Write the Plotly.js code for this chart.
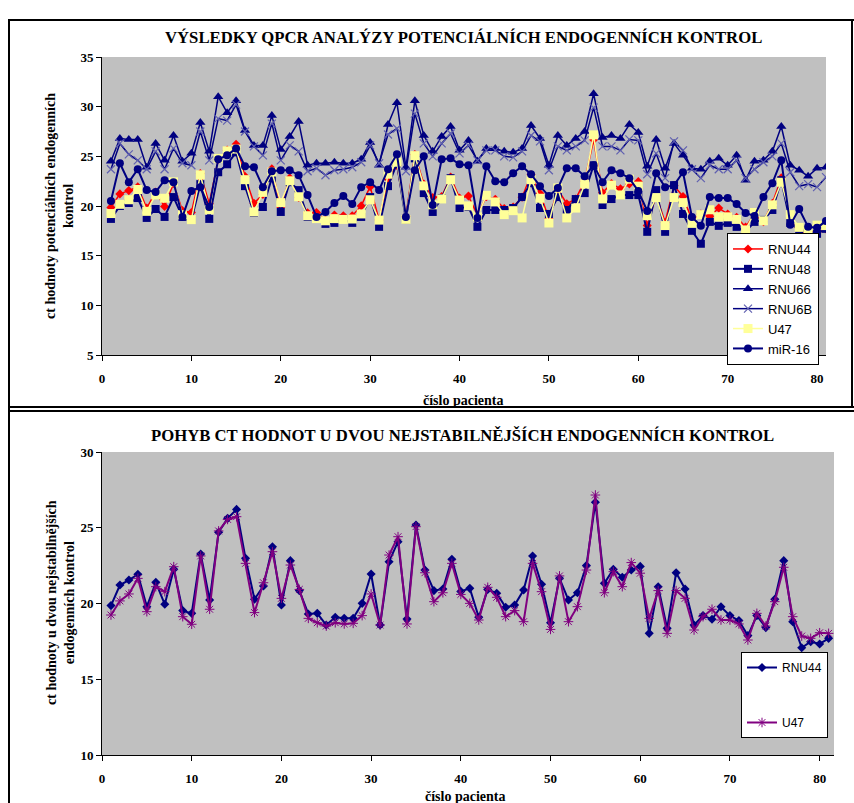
<!DOCTYPE html>
<html>
<head>
<meta charset="utf-8">
<script src="https://cdn.plot.ly/plotly-3.0.1.min.js"></script>
<style>html,body{margin:0;padding:0;background:#fff;}#chart{width:854px;height:803px;}</style>
</head>
<body>
<div id="chart"></div>
<script>
const patients = [1,2,3,4,5,6,7,8,9,10,11,12,13,14,15,16,17,18,19,20,21,22,23,24,25,26,27,28,29,30,31,32,33,34,35,36,37,38,39,40,41,42,43,44,45,46,47,48,49,50,51,52,53,54,55,56,57,58,59,60,61,62,63,64,65,66,67,68,69,70,71,72,73,74,75,76,77,78,79,80,81];

const rnu44 = [19.86,21.22,21.55,21.93,19.79,21.40,19.95,22.26,19.53,19.35,23.27,20.23,24.70,25.62,26.21,22.98,20.28,21.16,23.75,19.90,
22.83,20.85,19.31,19.35,18.58,19.09,19.02,19.02,20.01,21.95,18.58,22.76,24.08,18.98,25.18,22.21,20.85,20.96,22.92,20.80,
21.00,19.09,20.93,20.67,19.75,19.90,20.89,23.14,21.27,18.73,21.66,20.23,20.71,22.50,26.68,21.33,22.26,21.73,22.21,22.45,
18.03,21.11,18.36,22.03,20.96,18.58,19.20,18.96,19.79,19.20,18.87,17.88,19.20,18.41,20.28,22.83,18.80,17.08,17.48,17.33,17.70];

const rnu48 = [18.7,20.0,20.3,20.8,18.8,19.7,18.9,20.9,18.9,18.6,22.2,18.7,23.4,24.2,25.4,22.0,19.3,19.9,22.8,19.4,
22.4,21.6,18.9,18.8,18.2,18.3,18.7,18.3,18.9,20.9,17.9,22.0,24.3,18.6,24.8,21.3,19.4,20.8,22.8,19.8,
19.9,17.9,19.6,19.6,19.6,19.8,20.9,22.3,19.8,19.2,20.9,19.6,20.7,21.3,24.1,20.1,20.7,21.1,21.1,21.1,
17.4,21.6,17.4,22.1,19.2,17.5,16.2,18.4,18.0,18.3,17.9,17.4,18.4,18.6,19.6,22.6,18.3,17.6,17.4,17.2,17.7];

const rnu66 = [24.5,26.8,26.7,26.7,23.9,26.3,24.6,27.1,24.5,25.3,28.4,25.5,31.0,29.4,30.6,27.6,26.1,26.1,29.1,25.7,
27.0,28.5,24.1,24.3,24.3,24.4,24.3,24.3,24.7,26.4,24.1,28.2,30.4,23.9,30.6,27.1,25.5,27.0,28.0,25.6,
26.6,24.5,25.8,25.8,25.5,25.4,25.8,28.1,26.8,24.1,27.1,26.1,26.8,27.5,31.3,26.9,27.1,26.8,28.2,27.4,
24.0,26.7,23.8,26.3,25.1,23.8,23.7,24.5,24.8,24.1,25.1,22.6,24.5,24.6,25.5,28.0,24.1,23.6,23.0,23.8,23.9];

const rnu6b = [23.7,26.3,25.2,24.6,23.7,25.5,23.7,25.8,24.3,24.1,27.5,24.6,28.8,28.6,30.2,27.5,26.0,25.1,28.3,24.6,
26.1,25.5,23.5,23.8,23.1,23.6,23.7,23.9,24.4,26.1,24.3,27.2,27.8,23.5,29.3,26.3,25.0,26.3,27.3,25.3,
26.1,24.6,25.6,25.6,25.0,24.9,25.5,27.1,26.5,23.6,26.0,25.6,26.0,26.6,29.9,26.0,26.0,25.6,26.7,26.6,
23.2,25.3,22.8,26.5,25.6,23.7,22.8,24.1,23.7,23.7,24.6,22.8,23.7,24.4,25.0,26.3,23.4,22.0,22.2,21.9,22.9];

const u47 = [19.24,20.17,20.63,21.66,19.46,21.11,20.78,22.43,19.13,18.63,23.14,19.62,24.79,25.55,25.73,22.65,19.40,21.37,23.42,20.34,
22.54,20.93,19.02,18.73,18.51,18.73,18.65,18.69,19.20,20.63,18.58,23.20,24.41,18.65,25.07,22.03,20.12,20.71,22.65,20.60,
20.01,18.91,21.07,20.41,19.13,19.53,18.80,22.65,20.78,18.29,21.82,18.80,19.79,22.21,27.16,20.71,22.10,21.11,22.70,22.00,
19.02,20.85,18.03,20.85,20.34,18.25,19.13,19.62,18.91,18.91,18.65,17.59,19.35,18.51,20.12,22.39,19.13,17.85,17.70,18.07,18.03];

const mir16 = [20.5,24.3,22.4,23.7,21.6,21.4,22.6,22.4,18.9,21.5,21.9,19.9,24.7,25.1,25.8,24.0,23.9,21.9,23.5,23.6,
23.6,23.1,21.1,18.9,19.4,20.3,21.0,20.2,21.9,22.4,21.6,23.7,25.2,18.9,23.6,25.0,20.1,24.7,24.8,24.2,
24.1,18.8,24.0,22.5,22.4,23.3,24.0,23.2,22.0,21.0,21.8,23.8,23.8,23.0,24.1,22.4,23.6,23.3,22.8,21.5,
19.5,23.3,21.9,22.1,23.4,18.9,18.0,20.9,20.8,20.8,20.2,19.3,19.0,20.9,22.3,24.6,18.1,19.7,17.9,17.8,18.5];

const xTicks = [0,10,20,30,40,50,60,70,80];
const yTicksTop = [5,10,15,20,25,30,35];
const yTicksBottom = [10,15,20,25,30];

const titleTop = "VÝSLEDKY QPCR ANALÝZY POTENCIÁLNÍCH ENDOGENNÍCH KONTROL";
const titleBottom = "POHYB CT HODNOT U DVOU NEJSTABILNĚJŠÍCH ENDOGENNÍCH KONTROL";
const xTitle = "číslo pacienta";
const yTitleTop = "ct hodnoty potenciálních endogenních<br>kontrol";
const yTitleBottom = "ct hodnoty u dvou nejstabilnějších<br>endogenních kontrol";

const W = 854, H = 803;
const px = v => v / W;
const py = v => 1 - v / H;

const NAVY = '#000080';
const serif = 'Liberation Serif, Times New Roman, serif';

const traces = [
  {x: patients, y: rnu44, name: 'RNU44', mode: 'lines+markers', xaxis: 'x', yaxis: 'y', legend: 'legend',
   line: {color: '#FF0000', width: 1.5}, marker: {symbol: 'diamond', size: 7, color: '#FF0000'}},
  {x: patients, y: rnu48, name: 'RNU48', mode: 'lines+markers', xaxis: 'x', yaxis: 'y', legend: 'legend',
   line: {color: NAVY, width: 2}, marker: {symbol: 'square', size: 8, color: NAVY}},
  {x: patients, y: rnu66, name: 'RNU66', mode: 'lines+markers', xaxis: 'x', yaxis: 'y', legend: 'legend',
   line: {color: NAVY, width: 1.5}, marker: {symbol: 'triangle-up', size: 9, color: NAVY}},
  {x: patients, y: rnu6b, name: 'RNU6B', mode: 'lines+markers', xaxis: 'x', yaxis: 'y', legend: 'legend',
   line: {color: NAVY, width: 1.5}, marker: {symbol: 'x-thin-open', size: 8, color: '#6060B0', line: {color: '#6060B0', width: 1.2}}},
  {x: patients, y: u47, name: 'U47', mode: 'lines+markers', xaxis: 'x', yaxis: 'y', legend: 'legend',
   line: {color: '#FFFF99', width: 1.5}, marker: {symbol: 'square', size: 9, color: '#FFFF99'}},
  {x: patients, y: mir16, name: 'miR-16', mode: 'lines+markers', xaxis: 'x', yaxis: 'y', legend: 'legend',
   line: {color: NAVY, width: 2}, marker: {symbol: 'circle', size: 8, color: NAVY}},
  {x: patients, y: rnu44, name: 'RNU44', mode: 'lines+markers', xaxis: 'x2', yaxis: 'y2', legend: 'legend2', legendgroup: 'a',
   line: {color: NAVY, width: 2}, marker: {symbol: 'diamond', size: 7, color: NAVY}},
  {x: patients, y: u47, name: 'U47', mode: 'lines+markers', xaxis: 'x2', yaxis: 'y2', legend: 'legend2', legendgroup: 'b',
   line: {color: '#800080', width: 2}, marker: {symbol: 'asterisk-open', size: 8, color: '#800080', line: {color: '#B040B0', width: 1}}}
];

const tickFont = {family: serif, size: 13, color: '#000', weight: 'bold'};
const axisCommon = {showgrid: false, zeroline: false, showline: true, linecolor: '#000', linewidth: 1,
  ticks: 'outside', ticklen: 5, tickcolor: '#000', tickfont: tickFont};

const titleFont = {family: serif, size: 16.7, color: '#000', weight: 'bold'};
const axTitleFont = {family: serif, size: 14, color: '#000', weight: 'bold'};

function ann(text, x, y, extra) {
  return Object.assign({text: text, x: px(x), y: py(y), xref: 'paper', yref: 'paper', showarrow: false,
    xanchor: 'center', yanchor: 'middle', font: axTitleFont}, extra || {});
}

const layout = {
  width: W, height: H,
  margin: {l: 0, r: 0, t: 0, b: 0},
  paper_bgcolor: '#FFFFFF',
  plot_bgcolor: '#C0C0C0',
  showlegend: true,
  xaxis: Object.assign({}, axisCommon, {domain: [px(102), px(826)], range: [0, 81], anchor: 'y', tickvals: xTicks, ticklabelstandoff: 6}),
  yaxis: Object.assign({}, axisCommon, {domain: [py(355), py(57)], range: [5, 35], anchor: 'x', tickvals: yTicksTop}),
  xaxis2: Object.assign({}, axisCommon, {domain: [px(102), px(834)], range: [0, 81.6], anchor: 'y2', tickvals: xTicks, ticklabelstandoff: 6}),
  yaxis2: Object.assign({}, axisCommon, {domain: [py(755), py(452)], range: [10, 30], anchor: 'x2', tickvals: yTicksBottom}),
  legend: {x: px(727), y: py(233), xanchor: 'left', yanchor: 'top', xref: 'paper', yref: 'paper',
    bgcolor: '#FFFFFF', bordercolor: '#000', borderwidth: 1,
    font: {family: 'Liberation Sans, Arial, sans-serif', size: 13, color: '#000'}},
  legend2: {x: px(741), y: py(652), xanchor: 'left', yanchor: 'top', xref: 'paper', yref: 'paper',
    bgcolor: '#FFFFFF', bordercolor: '#000', borderwidth: 1, tracegroupgap: 36,
    font: {family: 'Liberation Sans, Arial, sans-serif', size: 12, color: '#000'}},
  annotations: [
    ann(titleTop, 463, 38, {font: titleFont}),
    ann(titleBottom, 462, 436, {font: titleFont}),
    ann(xTitle, 463, 400),
    ann(xTitle, 465, 796),
    ann(yTitleTop, 59, 206, {textangle: -90}),
    ann(yTitleBottom, 60, 602, {textangle: -90})
  ],
  shapes: [
    {type: 'line', xref: 'paper', yref: 'paper', x0: px(8), x1: 1, y0: py(20), y1: py(20), line: {color: '#000', width: 2}},
    {type: 'line', xref: 'paper', yref: 'paper', x0: px(9), x1: px(9), y0: py(20), y1: 0, line: {color: '#000', width: 2}},
    {type: 'line', xref: 'paper', yref: 'paper', x0: px(852), x1: px(852), y0: py(20), y1: py(408), line: {color: '#000', width: 2}},
    {type: 'line', xref: 'paper', yref: 'paper', x0: px(8), x1: 1, y0: py(407), y1: py(407), line: {color: '#000', width: 2}},
    {type: 'line', xref: 'paper', yref: 'paper', x0: px(8), x1: 1, y0: py(411), y1: py(411), line: {color: '#000', width: 2}}
  ]
};

Plotly.newPlot('chart', traces, layout, {displayModeBar: false, staticPlot: true});
</script>
</body>
</html>
